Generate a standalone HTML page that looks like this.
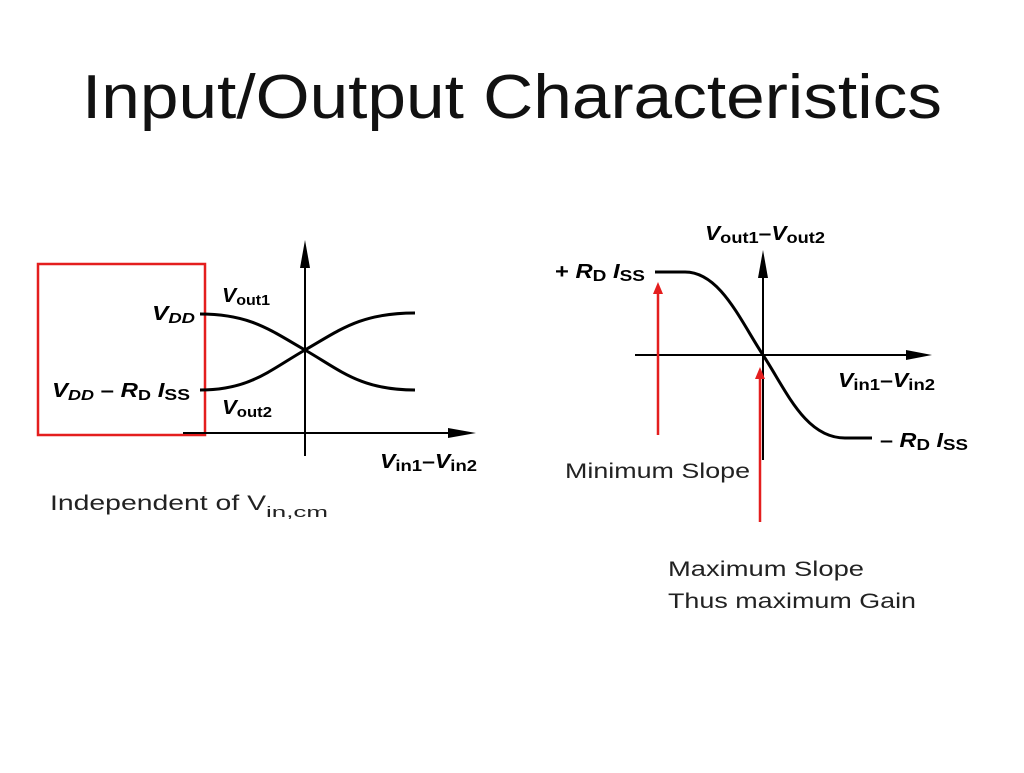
<!DOCTYPE html>
<html><head><meta charset="utf-8"><style>
body{margin:0;background:#fff;width:1024px;height:768px;overflow:hidden}
</style></head><body>
<svg width="1024" height="768" viewBox="0 0 1024 768" xmlns="http://www.w3.org/2000/svg">
<text x="82" y="118" textLength="860" lengthAdjust="spacingAndGlyphs" font-family="Liberation Sans, sans-serif" font-size="62" fill="#111">Input/Output Characteristics</text>

<!-- left plot -->
<rect x="38" y="264" width="167" height="171" fill="none" stroke="#e41e1e" stroke-width="2.5"/>
<line x1="183" y1="433" x2="460" y2="433" stroke="#000" stroke-width="2"/>
<path d="M448,428 L476,433 L448,438 z"/>
<line x1="305" y1="258" x2="305" y2="456" stroke="#000" stroke-width="2"/>
<path d="M300,268 L305,240 L310,268 z"/>
<path d="M200,314 C250,314 270,330 305,350 C340,370 360,390 415,390" fill="none" stroke="#000" stroke-width="3"/>
<path d="M200,390 C250,390 270,370 305,350 C340,330 360,313 415,313" fill="none" stroke="#000" stroke-width="3"/>
<g font-family="Liberation Sans, sans-serif" font-weight="bold" fill="#000" lengthAdjust="spacingAndGlyphs">
<text x="152" y="320" font-size="20" font-style="italic" textLength="43" lengthAdjust="spacingAndGlyphs">V<tspan font-size="15" dy="3">DD</tspan></text>
<text x="52" y="397" font-size="20" textLength="138" lengthAdjust="spacingAndGlyphs"><tspan font-style="italic">V</tspan><tspan font-size="15" dy="3" font-style="italic">DD</tspan><tspan dy="-3"> – </tspan><tspan font-style="italic">R</tspan><tspan font-size="15" dy="3">D</tspan><tspan dy="-3" font-style="italic"> I</tspan><tspan font-size="16" dy="3">SS</tspan></text>
<text x="222" y="302" font-size="20" font-style="italic" textLength="48" lengthAdjust="spacingAndGlyphs">V<tspan font-size="15" dy="3" font-style="normal">out1</tspan></text>
<text x="222" y="414" font-size="20" font-style="italic" textLength="50" lengthAdjust="spacingAndGlyphs">V<tspan font-size="15" dy="3" font-style="normal">out2</tspan></text>
<text x="380" y="468" font-size="20" textLength="97" lengthAdjust="spacingAndGlyphs"><tspan font-style="italic">V</tspan><tspan font-size="16" dy="3">in1</tspan><tspan dy="-3">–</tspan><tspan font-style="italic">V</tspan><tspan font-size="16" dy="3">in2</tspan></text>

<!-- right plot -->
<text x="705" y="240" font-size="20" textLength="120" lengthAdjust="spacingAndGlyphs"><tspan font-style="italic">V</tspan><tspan font-size="16" dy="3">out1</tspan><tspan dy="-3">–</tspan><tspan font-style="italic">V</tspan><tspan font-size="16" dy="3">out2</tspan></text>
<text x="555" y="278" font-size="20" textLength="90" lengthAdjust="spacingAndGlyphs">+ <tspan font-style="italic">R</tspan><tspan font-size="16" dy="3">D</tspan><tspan dy="-3" font-style="italic"> I</tspan><tspan font-size="16" dy="3">SS</tspan></text>
<text x="838" y="387" font-size="20" textLength="97" lengthAdjust="spacingAndGlyphs"><tspan font-style="italic">V</tspan><tspan font-size="16" dy="3">in1</tspan><tspan dy="-3">–</tspan><tspan font-style="italic">V</tspan><tspan font-size="16" dy="3">in2</tspan></text>
<text x="880" y="447" font-size="20" textLength="88" lengthAdjust="spacingAndGlyphs">– <tspan font-style="italic">R</tspan><tspan font-size="16" dy="3">D</tspan><tspan dy="-3" font-style="italic"> I</tspan><tspan font-size="16" dy="3">SS</tspan></text>
</g>
<line x1="635" y1="355" x2="918" y2="355" stroke="#000" stroke-width="2"/>
<path d="M906,350 L932,355 L906,360 z"/>
<line x1="763" y1="268" x2="763" y2="460" stroke="#000" stroke-width="2"/>
<path d="M758,278 L763,250 L768,278 z"/>
<path d="M655,272 L685,272 C720,272 740,320 763,355 C786,390 805,438 845,438 L872,438" fill="none" stroke="#000" stroke-width="3"/>
<line x1="658" y1="435" x2="658" y2="292" stroke="#e41e1e" stroke-width="2.5"/>
<path d="M653,294 L658,282 L663,294 z" fill="#e41e1e"/>
<line x1="760" y1="522" x2="760" y2="377" stroke="#e41e1e" stroke-width="2.5"/>
<path d="M755,379 L760,367 L765,379 z" fill="#e41e1e"/>

<g font-family="Liberation Sans, sans-serif" font-size="21" fill="#222">
<text x="565" y="478" textLength="185" lengthAdjust="spacingAndGlyphs">Minimum Slope</text>
<text x="50" y="510" textLength="216" lengthAdjust="spacingAndGlyphs">Independent of V</text>
<text x="266" y="517" font-size="15" textLength="62" lengthAdjust="spacingAndGlyphs">in,cm</text>
<text x="668" y="576" textLength="196" lengthAdjust="spacingAndGlyphs">Maximum Slope</text>
<text x="668" y="608" textLength="248" lengthAdjust="spacingAndGlyphs">Thus maximum Gain</text>
</g>
</svg>
</body></html>
